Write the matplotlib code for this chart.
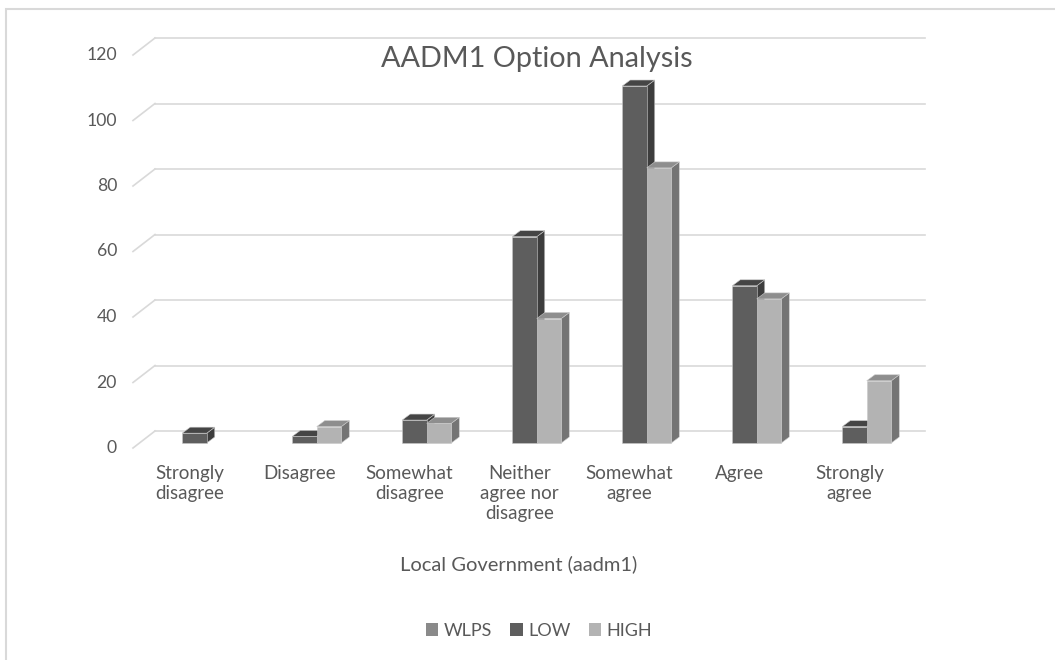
import matplotlib
matplotlib.use("Agg")
import matplotlib.pyplot as plt
from matplotlib.patches import Polygon, Patch, Rectangle
from matplotlib.transforms import offset_copy
import numpy as np

plt.rcParams['font.family'] = ['Lato', 'DejaVu Sans']

categories = ["Strongly\ndisagree", "Disagree", "Somewhat\ndisagree",
              "Neither\nagree nor\ndisagree", "Somewhat\nagree", "Agree", "Strongly\nagree"]
series_names = ["WLPS", "LOW", "HIGH"]
wlps = [0, 0, 0, 0, 0, 0, 0]
low = [3, 2, 7, 63, 109, 48, 5]
high = [0, 5, 6, 38, 84, 44, 19]
yticks = [0, 20, 40, 60, 80, 100, 120]
title = "AADM1 Option Analysis"
xlabel = "Local Government (aadm1)"

front_colors = ["#8a8a8a", "#5e5e5e", "#b3b3b3"]
top_colors = ["#6e6e6e", "#454545", "#8e8e8e"]
side_colors = ["#5a5a5a", "#3d3d3d", "#747474"]
txt = "#595959"
grid = "#d9d9d9"

W, H = 1055, 660
fig = plt.figure(figsize=(W / 100, H / 100), dpi=100)
fig.patch.set_facecolor("white")

# chart border
fig.add_artist(Rectangle((6 / W, -0.1), 1.2, (H - 9) / H + 0.1, transform=fig.transFigure,
                         fill=False, edgecolor=grid, lw=1.5))

ax = fig.add_axes([139.5 / W, (H - 443) / H, 770 / W, 393 / H])
ax.set_xlim(-0.5, len(categories) - 0.5)
ax.set_ylim(0, 120)
ax.axis("off")

back = offset_copy(ax.transData, fig=fig, x=15.5, y=12, units="dots")
front = offset_copy(ax.transData, fig=fig, x=-6.5, y=-5, units="dots")

x0, x1 = -0.5, len(categories) - 0.5
for t in yticks:
    ax.plot([x0, x1], [t, t], color=grid, lw=1.2, transform=back, clip_on=False, zorder=0)
    p_front = front.transform((x0, t))
    p_back = back.transform((x0, t))
    ax.plot([p_front[0], p_back[0]], [p_front[1], p_back[1]], color=grid, lw=1.2,
            transform=None, clip_on=False, zorder=0)
    ax.text(x0, t, str(t), transform=offset_copy(front, fig=fig, x=-16, y=0, units="dots"),
            ha="right", va="center", fontsize=12.7, color=txt)

# bars with pseudo-3D faces
w = 24.5 / 110
dep = (8, 6)
inv = ax.transData.inverted()
xs = np.arange(len(categories))
z = 2
for i in range(len(categories)):
    for s, vals in enumerate([wlps, low, high]):
        v = vals[i]
        if v <= 0:
            continue
        left = xs[i] + (s - 1) * w - w / 2
        right = left + w
        d = ax.transData.transform([(left, 0), (right, 0), (left, v), (right, v)])
        bl, br, tl, tr = d
        off = np.array(dep)
        side = inv.transform([br, br + off, tr + off, tr])
        top = inv.transform([tl, tr, tr + off, tl + off])
        ax.add_patch(Polygon(side, closed=True, facecolor=side_colors[s],
                             edgecolor="#c8c8c8", lw=0.4, zorder=z, clip_on=False))
        ax.add_patch(Polygon(top, closed=True, facecolor=top_colors[s],
                             edgecolor="#c8c8c8", lw=0.4, zorder=z, clip_on=False))
        ax.bar(left, v, width=w, align="edge", color=front_colors[s],
               edgecolor="#c8c8c8", lw=0.4, zorder=z, clip_on=False)
        z += 1

# category labels
lab_tr = offset_copy(ax.get_xaxis_transform(), fig=fig, x=-5, y=0, units="dots")
for i, c in enumerate(categories):
    ax.text(xs[i], -(465 - 443) / 393, c, transform=lab_tr, ha="center", va="top",
            fontsize=13.5, color=txt, linespacing=1.22)

fig.text(536.5 / W, (H - 67) / H, title, ha="center", va="baseline", fontsize=20.8, color=txt)
fig.text(519 / W, (H - 570) / H, xlabel, ha="center", va="baseline", fontsize=14.5, color=txt)

handles = [Patch(facecolor=front_colors[k], edgecolor="none") for k in range(3)]
fig.legend(handles, series_names, loc="center", bbox_to_anchor=(539 / W, (H - 631) / H),
           ncol=3, frameon=False, fontsize=13, labelcolor=txt,
           handlelength=0.7, handleheight=0.7, handletextpad=0.3, columnspacing=1.0)

fig.savefig("out.png", dpi=100, facecolor="white")
